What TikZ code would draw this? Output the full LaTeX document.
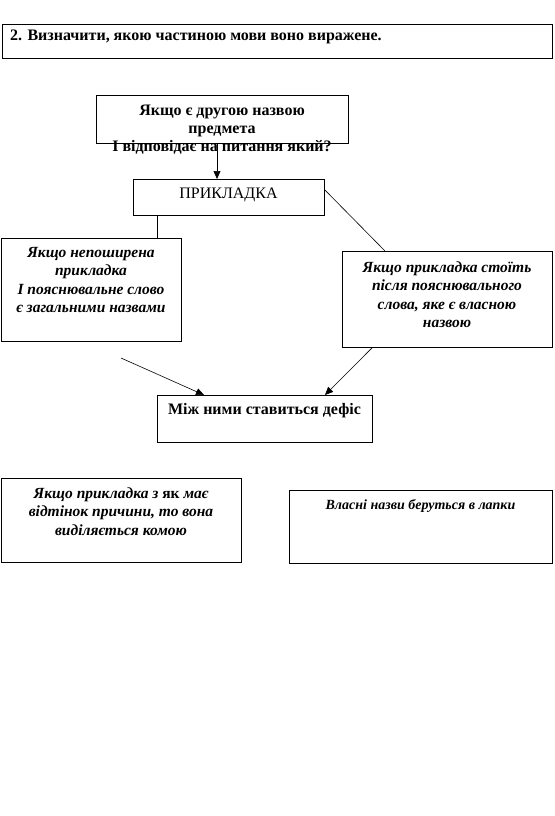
\documentclass[tikz,border=0pt]{standalone}
\usepackage{fontspec}
\setmainfont{Liberation Serif}
\usetikzlibrary{arrows.meta}
\tikzset{
  box/.style={draw, line width=0.9pt, inner sep=0pt, anchor=north west},
  conn/.style={draw, line width=0.6pt},
  arr/.style={conn, -{Triangle[length=8pt,width=7pt]}},
  tb/.style={inner sep=0pt, align=center, font=\bfseries\fontsize{16}{18}\selectfont},
  tr/.style={inner sep=0pt, align=center, font=\fontsize{16}{18}\selectfont},
  ti/.style={inner sep=0pt, align=center, font=\bfseries\itshape\fontsize{15.5}{18.5}\selectfont},
  ts/.style={inner sep=0pt, align=center, font=\bfseries\itshape\fontsize{14}{16}\selectfont}
}
\begin{document}
\begin{tikzpicture}[x=1pt,y=-1pt]
\useasboundingbox (0,0) rectangle (554,816);
% task box
\node[box, minimum width=550pt, minimum height=34pt] (task) at (2,24) {};
\node[tb, anchor=base west] (taskt) at (10,41) {2. Визначити, якою частиною мови воно виражене.};
% definition box
\node[box, minimum width=252pt, minimum height=48pt] (def) at (96,95) {};
\node[tb, anchor=base] (deft) at (222,151) {Якщо є другою назвою\\предмета\\І відповідає на питання який?};
% prykladka
\node[box, minimum width=191pt, minimum height=36pt] (pr) at (133,179) {};
\node[tr, anchor=base] (prt) at (228.5,198) {ПРИКЛАДКА};
% left box
\node[box, minimum width=180pt, minimum height=103pt] (lb) at (1,238) {};
\node[ti, anchor=base] (lbt) at (91,312.5) {Якщо непоширена\\прикладка\\І пояснювальне слово\\є загальними назвами};
% right box
\node[box, minimum width=210pt, minimum height=96pt] (rb) at (342,251) {};
\node[ti, anchor=base] (rbt) at (447,327.5) {Якщо прикладка стоїть\\після пояснювального\\слова, яке є власною\\назвою};
% defis box
\node[box, minimum width=215pt, minimum height=47pt] (df) at (157,395) {};
\node[tb, anchor=base] (dft) at (264.5,414) {Між ними ставиться дефіс};
% bottom left
\node[box, minimum width=240pt, minimum height=84pt] (bl) at (1,478) {};
\node[ti, anchor=base] (blt) at (121,535) {Якщо прикладка з \textup{як} має\\відтінок причини, то вона\\виділяється комою};
% bottom right
\node[box, minimum width=263pt, minimum height=73pt] (br) at (289,490) {};
\node[ts, anchor=base] (brt) at (420.5,509) {Власні назви беруться в лапки};
% connectors
\draw[arr] (def.south -| 217,0) -- (pr.north -| 217,0);
\draw[conn] (pr.south -| 157,0) -- (lb.north -| 157,0);
\draw[conn] (pr.east |- 0,190) -- (rb.north -| 385,0);
\coordinate (free) at (121,358);
\draw[arr] (free) -- (df.north -| 204,0);
\draw[arr] (rb.south -| 372,0) -- (df.north -| 325,0);
\end{tikzpicture}
\end{document}
